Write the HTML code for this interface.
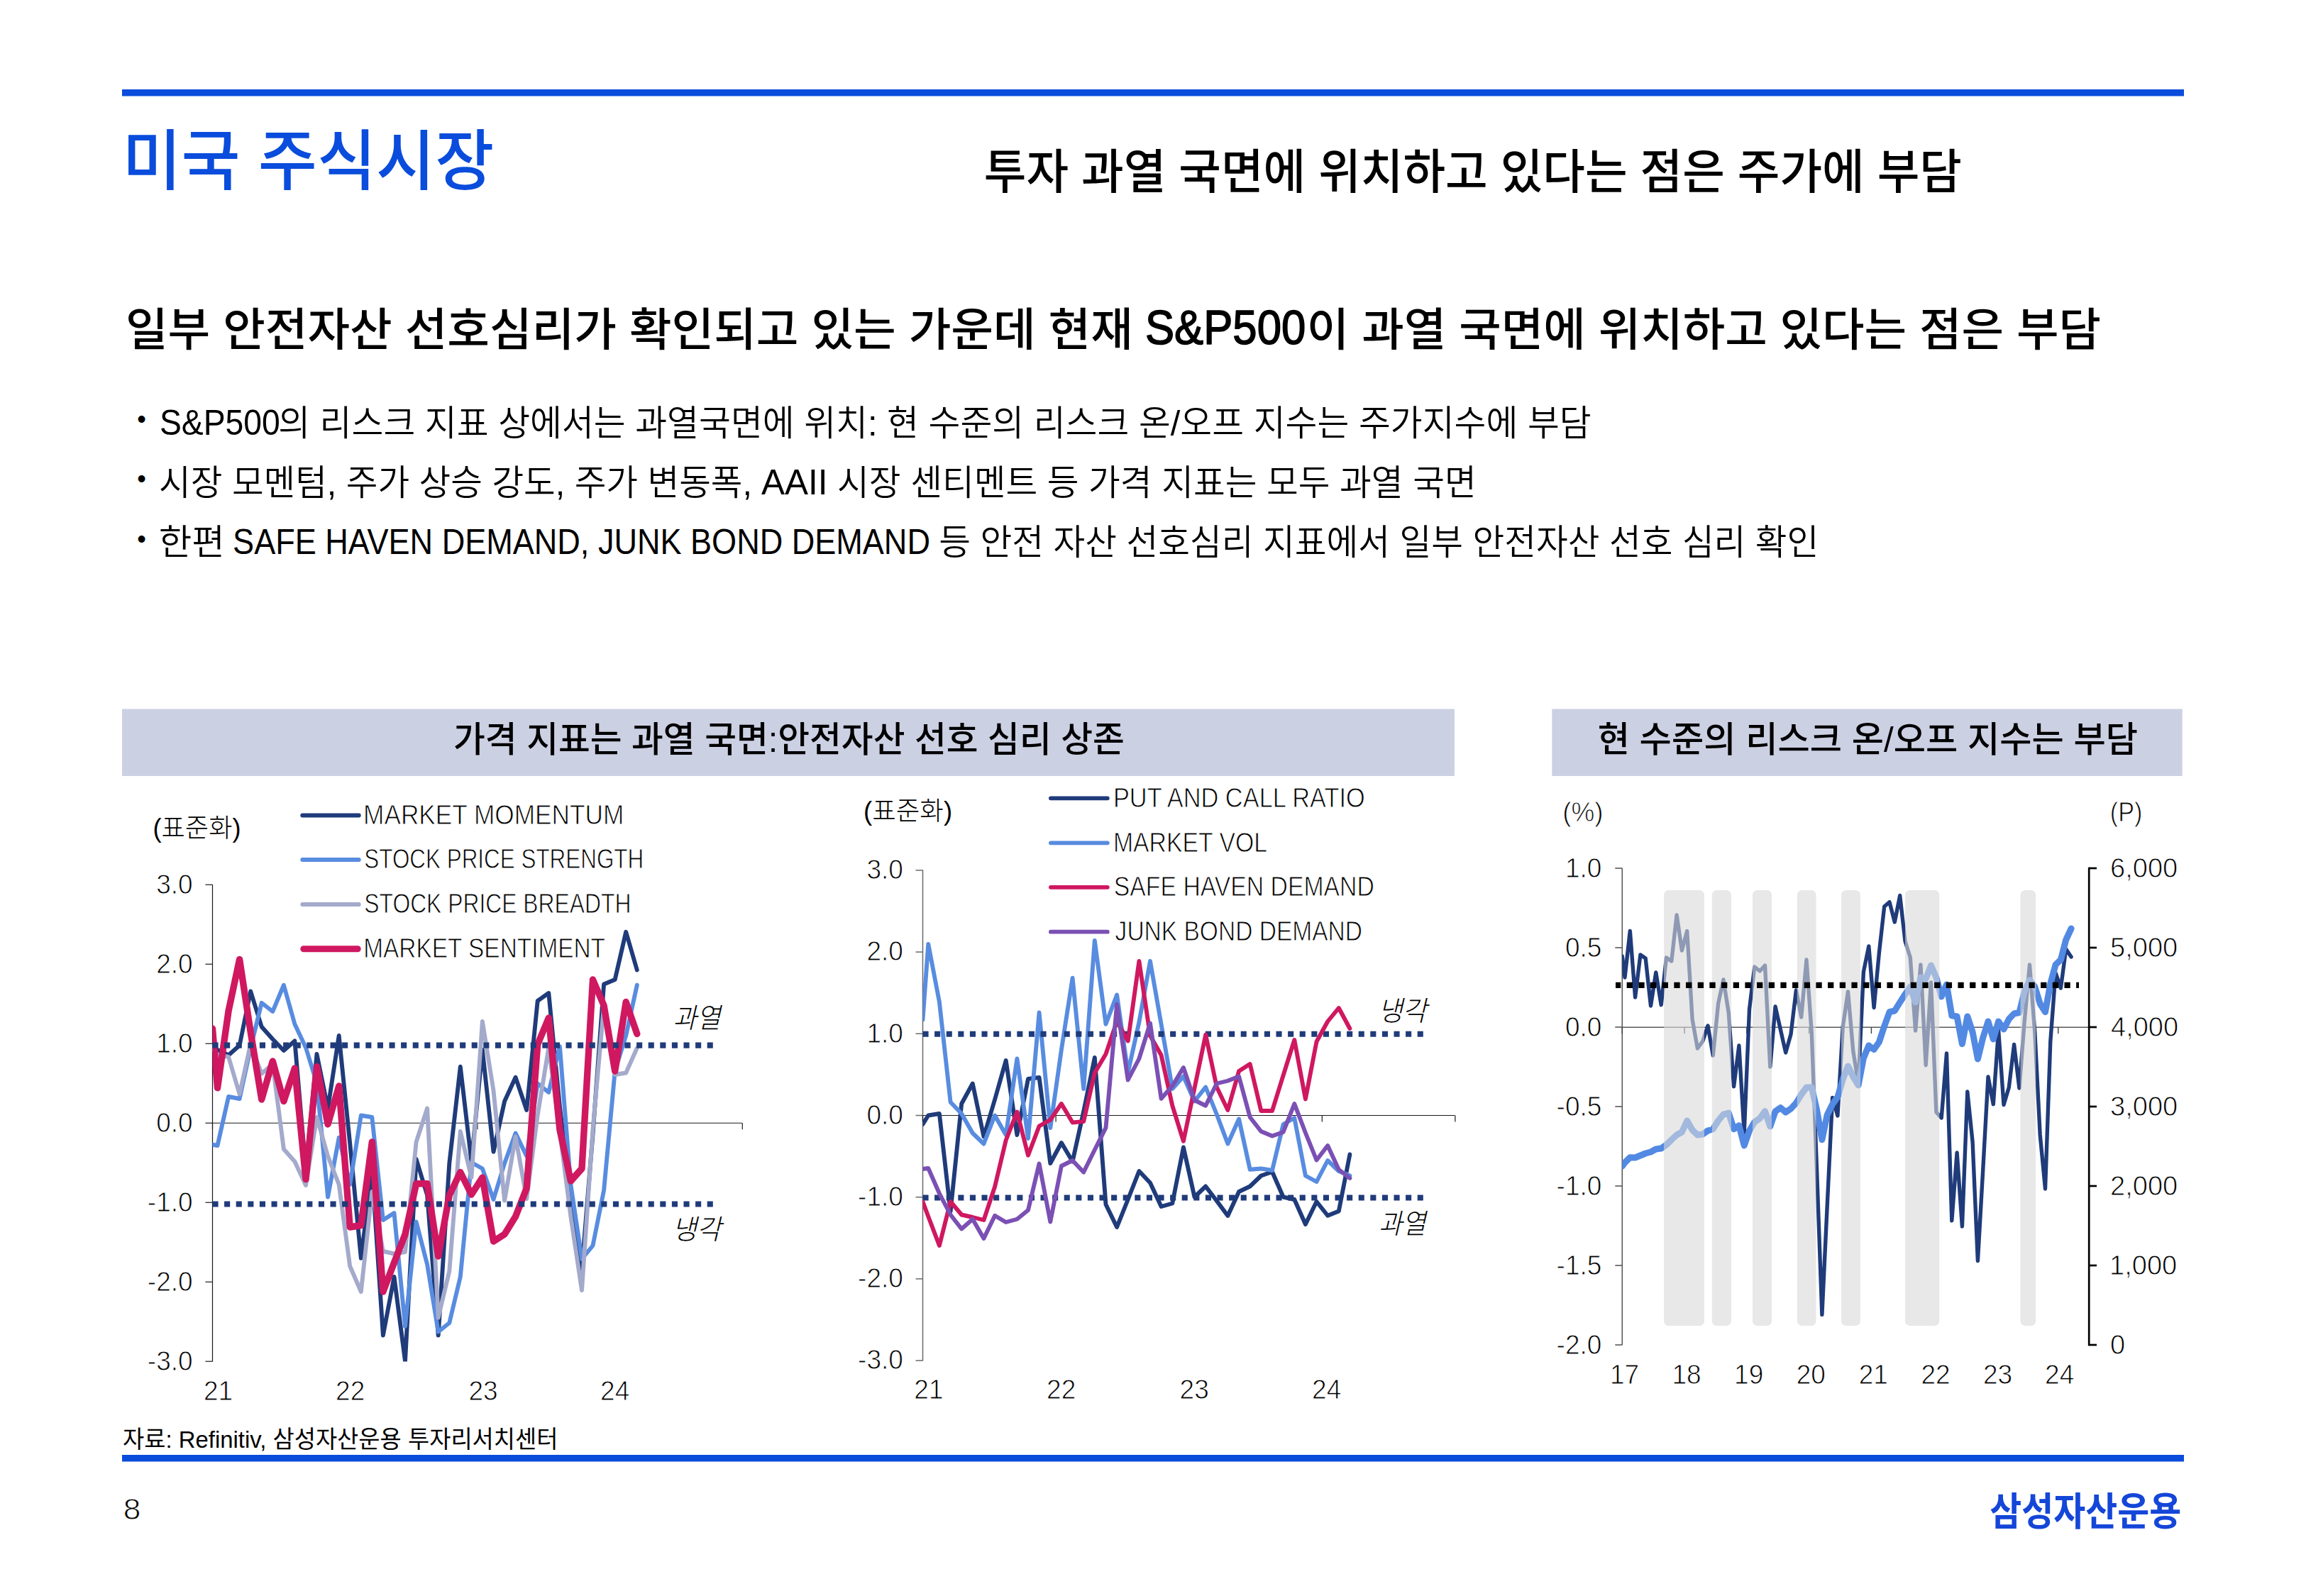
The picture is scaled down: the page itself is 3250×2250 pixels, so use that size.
<!DOCTYPE html>
<html lang="ko"><head><meta charset="utf-8"><title>미국 주식시장</title>
<style>
html,body{margin:0;padding:0;background:#fff;width:3250px;height:2250px}
svg{display:block;font-family:'Liberation Sans','Noto Sans CJK KR',sans-serif}
</style></head><body>
<svg width="3250" height="2250" viewBox="0 0 3250 2250">
<rect width="3250" height="2250" fill="#fff"/>
<rect x="172" y="126" width="2906" height="9.5" fill="#0A4CDC"/>
<rect x="172" y="2051" width="2906" height="9.5" fill="#0A4CDC"/>
<rect x="172" y="999.5" width="1878" height="94.5" fill="#CCD0E3"/>
<rect x="2187.3" y="999.5" width="888.4" height="94.5" fill="#CCD0E3"/>
<line x1="299.5" y1="1247" x2="299.5" y2="1919.5" stroke="#1a1a1a" stroke-width="1.2"/>
<line x1="289.5" y1="1247.25" x2="299.5" y2="1247.25" stroke="#1a1a1a" stroke-width="1.2"/>
<line x1="289.5" y1="1359.25" x2="299.5" y2="1359.25" stroke="#1a1a1a" stroke-width="1.2"/>
<line x1="289.5" y1="1471.25" x2="299.5" y2="1471.25" stroke="#1a1a1a" stroke-width="1.2"/>
<line x1="289.5" y1="1583.25" x2="299.5" y2="1583.25" stroke="#1a1a1a" stroke-width="1.2"/>
<line x1="289.5" y1="1695.25" x2="299.5" y2="1695.25" stroke="#1a1a1a" stroke-width="1.2"/>
<line x1="289.5" y1="1807.25" x2="299.5" y2="1807.25" stroke="#1a1a1a" stroke-width="1.2"/>
<line x1="289.5" y1="1919.25" x2="299.5" y2="1919.25" stroke="#1a1a1a" stroke-width="1.2"/>
<line x1="299.5" y1="1583.25" x2="1046" y2="1583.25" stroke="#1a1a1a" stroke-width="1.2"/>
<line x1="299.5" y1="1583.25" x2="299.5" y2="1592.25" stroke="#1a1a1a" stroke-width="1.2"/>
<line x1="486.2" y1="1583.25" x2="486.2" y2="1592.25" stroke="#1a1a1a" stroke-width="1.2"/>
<line x1="672.9" y1="1583.25" x2="672.9" y2="1592.25" stroke="#1a1a1a" stroke-width="1.2"/>
<line x1="859.5999999999999" y1="1583.25" x2="859.5999999999999" y2="1592.25" stroke="#1a1a1a" stroke-width="1.2"/>
<line x1="1046.3" y1="1583.25" x2="1046.3" y2="1592.25" stroke="#1a1a1a" stroke-width="1.2"/>
<clipPath id="cp1"><rect x="299.5" y="1240" width="760" height="679.5"/></clipPath>
<g clip-path="url(#cp1)">
<path d="M299.5,1478 L306.5,1480 L322.1,1487.5 L337.6,1473.75 L353.2,1397.5 L368.7,1447.5 L384.3,1465 L399.9,1481 L415.4,1467.5 L431,1650 L446.5,1486 L462.1,1562.5 L477.7,1460 L493.2,1612 L508.8,1773.75 L524.3,1650 L539.9,1882.5 L555.5,1800 L571,1919 L586.6,1634 L602.1,1685 L617.7,1882.5 L633.3,1640 L648.8,1503.75 L664.4,1637.5 L679.9,1480 L695.5,1623.75 L711.1,1552.5 L726.6,1518.75 L742.2,1565 L757.7,1411 L773.3,1400 L788.9,1560 L804.4,1690 L820,1790 L835.5,1599 L851.1,1387.5 L866.7,1381 L882.2,1313.75 L897.8,1367.5" fill="none" stroke="#1F3B7A" stroke-width="5.9" stroke-linejoin="round" stroke-linecap="round" />
<path d="M299.5,1613.75 L306.5,1615 L322.1,1546 L337.6,1549 L353.2,1477.5 L368.7,1413.75 L384.3,1426 L399.9,1388.75 L415.4,1443.75 L431,1477 L446.5,1527 L462.1,1687.5 L477.7,1603.75 L493.2,1670 L508.8,1572.5 L524.3,1575 L539.9,1720 L555.5,1710 L571,1870 L586.6,1722.5 L602.1,1782.5 L617.7,1877.5 L633.3,1865 L648.8,1800 L664.4,1638.75 L679.9,1647.5 L695.5,1691 L711.1,1640 L726.6,1597.5 L742.2,1630 L757.7,1527.5 L773.3,1540 L788.9,1475 L804.4,1670 L820,1775 L835.5,1756 L851.1,1678 L866.7,1510 L882.2,1460 L897.8,1388.75" fill="none" stroke="#588CE0" stroke-width="5.9" stroke-linejoin="round" stroke-linecap="round" />
<path d="M299.5,1478 L306.5,1487 L322.1,1490 L337.6,1542.5 L353.2,1472 L368.7,1513.75 L384.3,1500 L399.9,1620 L415.4,1637.5 L431,1671 L446.5,1575 L462.1,1630 L477.7,1670 L493.2,1785 L508.8,1821 L524.3,1680 L539.9,1764 L555.5,1767.5 L571,1765 L586.6,1610 L602.1,1562.5 L617.7,1857.5 L633.3,1792 L648.8,1595 L664.4,1660 L679.9,1440 L695.5,1537.5 L711.1,1692.5 L726.6,1602.5 L742.2,1690 L757.7,1572 L773.3,1477 L788.9,1595 L804.4,1715 L820,1819 L835.5,1592 L851.1,1418 L866.7,1515 L882.2,1512.5 L897.8,1477.5" fill="none" stroke="#A3AACB" stroke-width="5.9" stroke-linejoin="round" stroke-linecap="round" />
<path d="M299.5,1450 L306.5,1533.75 L322.1,1425 L337.6,1352.5 L353.2,1455 L368.7,1550 L384.3,1496 L399.9,1552.5 L415.4,1506 L431,1662.5 L446.5,1503.75 L462.1,1585 L477.7,1531 L493.2,1730 L508.8,1727.5 L524.3,1610 L539.9,1821 L555.5,1780 L571,1740 L586.6,1668.75 L602.1,1668.75 L617.7,1771 L633.3,1685 L648.8,1652.5 L664.4,1684 L679.9,1660 L695.5,1750 L711.1,1740 L726.6,1715 L742.2,1675 L757.7,1472.5 L773.3,1435 L788.9,1592.5 L804.4,1665 L820,1647.5 L835.5,1381 L851.1,1417.5 L866.7,1510 L882.2,1412.5 L897.8,1457.5" fill="none" stroke="#CF1860" stroke-width="9.4" stroke-linejoin="round" stroke-linecap="round" />
</g>
<line x1="299.5" y1="1473.6" x2="1006" y2="1473.6" stroke="#1F3B7A" stroke-width="8.1" stroke-dasharray="8.1 8.5" stroke-dashoffset="0"/>
<line x1="299.5" y1="1697.5" x2="1006" y2="1697.5" stroke="#1F3B7A" stroke-width="8.1" stroke-dasharray="8.1 8.5" stroke-dashoffset="0"/>
<line x1="1300.5" y1="1226.5" x2="1300.5" y2="1918.5" stroke="#6a6a6a" stroke-width="1.5"/>
<line x1="1290.5" y1="1226.9" x2="1300.5" y2="1226.9" stroke="#6a6a6a" stroke-width="1.5"/>
<line x1="1290.5" y1="1342.1000000000001" x2="1300.5" y2="1342.1000000000001" stroke="#6a6a6a" stroke-width="1.5"/>
<line x1="1290.5" y1="1457.3000000000002" x2="1300.5" y2="1457.3000000000002" stroke="#6a6a6a" stroke-width="1.5"/>
<line x1="1290.5" y1="1572.5" x2="1300.5" y2="1572.5" stroke="#6a6a6a" stroke-width="1.5"/>
<line x1="1290.5" y1="1687.7" x2="1300.5" y2="1687.7" stroke="#6a6a6a" stroke-width="1.5"/>
<line x1="1290.5" y1="1802.9" x2="1300.5" y2="1802.9" stroke="#6a6a6a" stroke-width="1.5"/>
<line x1="1290.5" y1="1918.1000000000001" x2="1300.5" y2="1918.1000000000001" stroke="#6a6a6a" stroke-width="1.5"/>
<line x1="1300.5" y1="1572.5" x2="2050.5" y2="1572.5" stroke="#1a1a1a" stroke-width="1.2"/>
<line x1="1300.5" y1="1572.5" x2="1300.5" y2="1581.5" stroke="#1a1a1a" stroke-width="1.2"/>
<line x1="1488.1" y1="1572.5" x2="1488.1" y2="1581.5" stroke="#1a1a1a" stroke-width="1.2"/>
<line x1="1675.7" y1="1572.5" x2="1675.7" y2="1581.5" stroke="#1a1a1a" stroke-width="1.2"/>
<line x1="1863.3" y1="1572.5" x2="1863.3" y2="1581.5" stroke="#1a1a1a" stroke-width="1.2"/>
<line x1="2050.9" y1="1572.5" x2="2050.9" y2="1581.5" stroke="#1a1a1a" stroke-width="1.2"/>
<clipPath id="cp2"><rect x="1300.5" y="1220" width="760" height="699"/></clipPath>
<g clip-path="url(#cp2)">
<path d="M1300.5,1585 L1308.3,1572.5 L1323.9,1570 L1339.6,1708 L1355.2,1556 L1370.8,1527.5 L1386.5,1602.5 L1402.1,1550 L1417.7,1495 L1433.4,1600 L1449,1521 L1464.6,1519 L1480.3,1640 L1495.9,1611 L1511.6,1637.5 L1527.2,1567 L1542.8,1491 L1558.5,1698 L1574.1,1730 L1589.7,1691 L1605.4,1651 L1621,1667.5 L1636.6,1701 L1652.3,1696.5 L1667.9,1617.5 L1683.5,1687.5 L1699.2,1672.5 L1714.8,1693 L1730.4,1714 L1746.1,1680 L1761.7,1672.5 L1777.3,1657.5 L1793,1652 L1808.6,1687.5 L1824.3,1691 L1839.9,1726 L1855.5,1694 L1871.2,1713.75 L1886.8,1707.5 L1902.4,1627.5" fill="none" stroke="#1F3B7A" stroke-width="5.9" stroke-linejoin="round" stroke-linecap="round" />
<path d="M1300.5,1437.5 L1308.3,1331 L1323.9,1412.5 L1339.6,1553.75 L1355.2,1570 L1370.8,1597.5 L1386.5,1612.5 L1402.1,1572.5 L1417.7,1600 L1433.4,1492.5 L1449,1605 L1464.6,1427.5 L1480.3,1590 L1495.9,1480 L1511.6,1378.75 L1527.2,1535 L1542.8,1326 L1558.5,1443.75 L1574.1,1402.5 L1589.7,1512 L1605.4,1441 L1621,1355 L1636.6,1444 L1652.3,1535 L1667.9,1517.5 L1683.5,1552.5 L1699.2,1532.5 L1714.8,1571 L1730.4,1612.5 L1746.1,1577.5 L1761.7,1648.75 L1777.3,1647.5 L1793,1650 L1808.6,1585 L1824.3,1576 L1839.9,1657.5 L1855.5,1666 L1871.2,1636 L1886.8,1651 L1902.4,1657.5" fill="none" stroke="#588CE0" stroke-width="5.9" stroke-linejoin="round" stroke-linecap="round" />
</g>
<line x1="1300.5" y1="1457.7" x2="2008" y2="1457.7" stroke="#1F3B7A" stroke-width="8.1" stroke-dasharray="8.1 8.5" stroke-dashoffset="0"/>
<line x1="1300.5" y1="1688.5" x2="2008" y2="1688.5" stroke="#1F3B7A" stroke-width="8.1" stroke-dasharray="8.1 8.5" stroke-dashoffset="0"/>
<g clip-path="url(#cp2)">
<path d="M1300.5,1694 L1308.3,1715 L1323.9,1756 L1339.6,1694 L1355.2,1712.5 L1370.8,1716 L1386.5,1720 L1402.1,1673 L1417.7,1607.5 L1433.4,1567.5 L1449,1628.75 L1464.6,1587.5 L1480.3,1578.75 L1495.9,1556 L1511.6,1582.5 L1527.2,1581 L1542.8,1512.5 L1558.5,1486 L1574.1,1440 L1589.7,1467.5 L1605.4,1355 L1621,1460 L1636.6,1487.5 L1652.3,1558.75 L1667.9,1608.75 L1683.5,1534 L1699.2,1458.75 L1714.8,1532.5 L1730.4,1565 L1746.1,1510 L1761.7,1500 L1777.3,1566 L1793,1566 L1808.6,1516 L1824.3,1466 L1839.9,1549.5 L1855.5,1468.5 L1871.2,1440 L1886.8,1421 L1902.4,1450" fill="none" stroke="#CF1860" stroke-width="5.9" stroke-linejoin="round" stroke-linecap="round" />
<path d="M1300.5,1648 L1308.3,1647 L1323.9,1682.5 L1339.6,1712.5 L1355.2,1732.5 L1370.8,1718.75 L1386.5,1746 L1402.1,1713.75 L1417.7,1723 L1433.4,1718.75 L1449,1706 L1464.6,1640.5 L1480.3,1722.5 L1495.9,1643.75 L1511.6,1636 L1527.2,1652.5 L1542.8,1621 L1558.5,1590 L1574.1,1416 L1589.7,1522.5 L1605.4,1492.5 L1621,1442.5 L1636.6,1548.75 L1652.3,1531 L1667.9,1505 L1683.5,1551 L1699.2,1558.75 L1714.8,1527.5 L1730.4,1523.75 L1746.1,1517.5 L1761.7,1575 L1777.3,1595 L1793,1601.5 L1808.6,1596 L1824.3,1556 L1839.9,1597 L1855.5,1635.5 L1871.2,1615 L1886.8,1648.75 L1902.4,1661" fill="none" stroke="#7B50B4" stroke-width="5.9" stroke-linejoin="round" stroke-linecap="round" />
</g>
<line x1="2286.3" y1="1224" x2="2286.3" y2="1896" stroke="#595959" stroke-width="1.6"/>
<line x1="2276.3" y1="1224" x2="2286.3" y2="1224" stroke="#595959" stroke-width="1.6"/>
<line x1="2276.3" y1="1336" x2="2286.3" y2="1336" stroke="#595959" stroke-width="1.6"/>
<line x1="2276.3" y1="1448" x2="2286.3" y2="1448" stroke="#595959" stroke-width="1.6"/>
<line x1="2276.3" y1="1560" x2="2286.3" y2="1560" stroke="#595959" stroke-width="1.6"/>
<line x1="2276.3" y1="1672" x2="2286.3" y2="1672" stroke="#595959" stroke-width="1.6"/>
<line x1="2276.3" y1="1784" x2="2286.3" y2="1784" stroke="#595959" stroke-width="1.6"/>
<line x1="2276.3" y1="1896" x2="2286.3" y2="1896" stroke="#595959" stroke-width="1.6"/>
<line x1="2286.3" y1="1448.2" x2="2944" y2="1448.2" stroke="#595959" stroke-width="1.6"/>
<line x1="2286.3" y1="1448.2" x2="2286.3" y2="1457.2" stroke="#404040" stroke-width="1.4"/>
<line x1="2374.0800000000004" y1="1448.2" x2="2374.0800000000004" y2="1457.2" stroke="#404040" stroke-width="1.4"/>
<line x1="2461.86" y1="1448.2" x2="2461.86" y2="1457.2" stroke="#404040" stroke-width="1.4"/>
<line x1="2549.6400000000003" y1="1448.2" x2="2549.6400000000003" y2="1457.2" stroke="#404040" stroke-width="1.4"/>
<line x1="2637.42" y1="1448.2" x2="2637.42" y2="1457.2" stroke="#404040" stroke-width="1.4"/>
<line x1="2725.2000000000003" y1="1448.2" x2="2725.2000000000003" y2="1457.2" stroke="#404040" stroke-width="1.4"/>
<line x1="2812.9800000000005" y1="1448.2" x2="2812.9800000000005" y2="1457.2" stroke="#404040" stroke-width="1.4"/>
<line x1="2900.76" y1="1448.2" x2="2900.76" y2="1457.2" stroke="#404040" stroke-width="1.4"/>
<line x1="2944.2" y1="1222.7" x2="2944.2" y2="1897.3" stroke="#000" stroke-width="2.7"/>
<line x1="2944.2" y1="1224" x2="2955" y2="1224" stroke="#000" stroke-width="2.7"/>
<line x1="2944.2" y1="1336" x2="2955" y2="1336" stroke="#000" stroke-width="2.7"/>
<line x1="2944.2" y1="1448" x2="2955" y2="1448" stroke="#000" stroke-width="2.7"/>
<line x1="2944.2" y1="1560" x2="2955" y2="1560" stroke="#000" stroke-width="2.7"/>
<line x1="2944.2" y1="1672" x2="2955" y2="1672" stroke="#000" stroke-width="2.7"/>
<line x1="2944.2" y1="1784" x2="2955" y2="1784" stroke="#000" stroke-width="2.7"/>
<line x1="2944.2" y1="1896" x2="2955" y2="1896" stroke="#000" stroke-width="2.7"/>
<clipPath id="cp3"><rect x="2286.3" y="1220" width="660" height="680"/></clipPath>
<g clip-path="url(#cp3)">
<path d="M2286.3,1348 L2290,1378 L2297.3,1312.5 L2304.6,1406 L2311.9,1346 L2319.2,1351 L2326.5,1418 L2333.8,1371 L2341.2,1416.7 L2348.5,1350 L2355.8,1355 L2363.1,1290 L2370.4,1340 L2377.7,1312.5 L2385.1,1437 L2392.4,1478 L2399.7,1468 L2407,1446 L2414.3,1488 L2421.6,1415 L2428.9,1381 L2436.3,1428 L2443.6,1531.7 L2450.9,1474 L2458.2,1597 L2465.5,1423 L2472.8,1363 L2480.2,1369 L2487.5,1361 L2494.8,1504 L2502.1,1419 L2509.4,1451.7 L2516.7,1484 L2524,1458 L2531.4,1396 L2538.7,1434 L2546,1353 L2553.3,1456.7 L2560.6,1650 L2567.9,1853.3 L2575.2,1700 L2582.6,1547.5 L2589.9,1573 L2597.2,1448 L2604.5,1398 L2611.8,1482 L2619.1,1527 L2626.4,1370 L2633.8,1334 L2641.1,1420.5 L2648.4,1343 L2655.7,1278 L2663,1271.7 L2670.3,1300 L2677.7,1262.5 L2685,1326.7 L2692.3,1350 L2699.6,1453 L2706.9,1360 L2714.2,1501.7 L2721.5,1385 L2728.9,1568 L2736.2,1576 L2743.5,1485 L2750.8,1720.8 L2758.1,1625 L2765.4,1729 L2772.8,1539 L2780.1,1610 L2787.4,1777.5 L2794.7,1650 L2802,1518 L2809.3,1556.7 L2816.6,1452.5 L2824,1557.5 L2831.3,1533 L2838.6,1472.5 L2845.9,1534 L2853.2,1440 L2860.5,1360 L2867.8,1455 L2875.2,1600 L2882.5,1676 L2889.8,1468 L2897.1,1371.7 L2904.4,1393 L2911.7,1338 L2919.1,1349" fill="none" stroke="#1F3B7A" stroke-width="5.4" stroke-linejoin="round" stroke-linecap="round" />
<path d="M2286.3,1644 L2290,1639 L2297.3,1631.7 L2304.6,1632 L2311.9,1629 L2319.2,1626 L2326.5,1624 L2333.8,1620 L2341.2,1619 L2348.5,1614 L2355.8,1606.7 L2363.1,1600 L2370.4,1596 L2377.7,1580 L2385.1,1593 L2392.4,1600 L2399.7,1599 L2407,1594 L2414.3,1591.7 L2421.6,1580 L2428.9,1571 L2436.3,1569 L2443.6,1591.7 L2450.9,1586.7 L2458.2,1615 L2465.5,1594 L2472.8,1581.7 L2480.2,1576.7 L2487.5,1566.7 L2494.8,1588 L2502.1,1566.7 L2509.4,1561.7 L2516.7,1568 L2524,1563 L2531.4,1555 L2538.7,1543 L2546,1533 L2553.3,1533 L2560.6,1565 L2567.9,1606.7 L2575.2,1571.7 L2582.6,1556.7 L2589.9,1546.7 L2597.2,1521.7 L2604.5,1503 L2611.8,1518 L2619.1,1530 L2626.4,1491.7 L2633.8,1474 L2641.1,1479.5 L2648.4,1469 L2655.7,1446.7 L2663,1426.7 L2670.3,1425 L2677.7,1413 L2685,1401.7 L2692.3,1391 L2699.6,1413 L2706.9,1378 L2714.2,1380 L2721.5,1361 L2728.9,1378 L2736.2,1405 L2743.5,1388 L2750.8,1431.7 L2758.1,1433 L2765.4,1471.7 L2772.8,1433 L2780.1,1455 L2787.4,1493 L2794.7,1463 L2802,1440 L2809.3,1465 L2816.6,1440 L2824,1451 L2831.3,1436.7 L2838.6,1429 L2845.9,1427.5 L2853.2,1398 L2860.5,1381.7 L2867.8,1391 L2875.2,1415 L2882.5,1426.7 L2889.8,1386.7 L2897.1,1360 L2904.4,1353 L2911.7,1325 L2919.1,1309" fill="none" stroke="#5289E3" stroke-width="9.0" stroke-linejoin="round" stroke-linecap="round" />
</g>
<rect x="2345" y="1255" width="57" height="614" rx="6.5" fill="rgb(217,217,217)" fill-opacity="0.6"/>
<rect x="2412.8" y="1255" width="27.2" height="614" rx="6.5" fill="rgb(217,217,217)" fill-opacity="0.6"/>
<rect x="2470" y="1255" width="27" height="614" rx="6.5" fill="rgb(217,217,217)" fill-opacity="0.6"/>
<rect x="2532.8" y="1255" width="26.7" height="614" rx="6.5" fill="rgb(217,217,217)" fill-opacity="0.6"/>
<rect x="2595" y="1255" width="27" height="614" rx="6.5" fill="rgb(217,217,217)" fill-opacity="0.6"/>
<rect x="2685" y="1255" width="48.3" height="614" rx="6.5" fill="rgb(217,217,217)" fill-opacity="0.6"/>
<rect x="2847.5" y="1255" width="21.7" height="614" rx="6.5" fill="rgb(217,217,217)" fill-opacity="0.6"/>
<line x1="2277" y1="1388.8" x2="2930" y2="1388.8" stroke="#000" stroke-width="8.3" stroke-dasharray="8.3 8.37" stroke-dashoffset="1"/>
<line x1="426.2" y1="1149.5" x2="505.8" y2="1149.5" stroke="#1F3B7A" stroke-width="5.8" stroke-linecap="round"/>
<line x1="426.2" y1="1212" x2="505.8" y2="1212" stroke="#588CE0" stroke-width="5.8" stroke-linecap="round"/>
<line x1="426.2" y1="1275" x2="505.8" y2="1275" stroke="#A3AACB" stroke-width="5.8" stroke-linecap="round"/>
<line x1="427.8" y1="1337.8" x2="504.2" y2="1337.8" stroke="#CF1860" stroke-width="9" stroke-linecap="round"/>
<line x1="1480.9" y1="1125.3" x2="1560.8" y2="1125.3" stroke="#1F3B7A" stroke-width="5.8" stroke-linecap="round"/>
<line x1="1480.9" y1="1188.3" x2="1560.8" y2="1188.3" stroke="#588CE0" stroke-width="5.8" stroke-linecap="round"/>
<line x1="1480.9" y1="1250.8" x2="1560.8" y2="1250.8" stroke="#CF1860" stroke-width="5.8" stroke-linecap="round"/>
<line x1="1480.9" y1="1313.7" x2="1560.8" y2="1313.7" stroke="#7B50B4" stroke-width="5.8" stroke-linecap="round"/>
<text transform="translate(172.44 260) scale(0.9736 1)" font-size="92.8" font-weight="500" fill="#0A4CDC">미국 주식시장</text>
<text transform="translate(1386.81 265.6) scale(0.9617 1)" font-size="67.4" font-weight="500">투자 과열 국면에 위치하고 있다는 점은 주가에 부담</text>
<text transform="translate(176.95 486.5) scale(1.0113 1)" font-size="64.1" font-weight="500">일부 안전자산 선호심리가 확인되고 있는 가운데 현재</text>
<text transform="translate(1613.91 484.9) scale(0.8944 1)" font-size="69" font-weight="400" stroke="#000" stroke-width="1.6" stroke-linejoin="round">S&amp;P500</text>
<text transform="translate(1841.75 486.5) scale(1.0093 1)" font-size="64.1" font-weight="500">이 과열 국면에 위치하고 있다는 점은 부담</text>
<text transform="translate(224.95 612.5) scale(0.9256 1)" font-size="50" font-weight="400">S&amp;P500</text>
<text transform="translate(392.17 614) scale(0.9760 1)" font-size="50" font-weight="350">의 리스크 지표 상에서는 과열국면에 위치: 현 수준의 리스크 온/오프 지수는 주가지수에 부담</text>
<text transform="translate(224.09 698) scale(0.9711 1)" font-size="50" font-weight="350">시장 모멘텀, 주가 상승 강도, 주가 변동폭,</text>
<text transform="translate(1073.00 696.6) scale(0.9900 1)" font-size="50" font-weight="400">AAII</text>
<text transform="translate(1180.08 698) scale(0.9738 1)" font-size="50" font-weight="350">시장 센티멘트 등 가격 지표는 모두 과열 국면</text>
<text transform="translate(223.76 782.2) scale(1.0119 1)" font-size="50" font-weight="350">한편</text>
<text transform="translate(328.10 780.7) scale(0.9013 1)" font-size="50" font-weight="400">SAFE HAVEN DEMAND, JUNK BOND DEMAND</text>
<text transform="translate(1323.25 782.2) scale(0.9729 1)" font-size="50" font-weight="350">등 안전 자산 선호심리 지표에서 일부 안전자산 선호 심리 확인</text>
<text transform="translate(193.20 603.3) scale(1.0000 1)" font-size="36" font-weight="400">•</text>
<text transform="translate(193.20 687.3) scale(1.0000 1)" font-size="36" font-weight="400">•</text>
<text transform="translate(193.20 771.5) scale(1.0000 1)" font-size="36" font-weight="400">•</text>
<text transform="translate(639.05 1060) scale(0.9739 1)" font-size="50" font-weight="500">가격 지표는 과열 국면:안전자산 선호 심리 상존</text>
<text transform="translate(2251.63 1060) scale(0.9847 1)" font-size="50" font-weight="500">현 수준의 리스크 온/오프 지수는 부담</text>
<text transform="translate(173.03 2041) scale(0.9697 1)" font-size="33.9" font-weight="400">자료: Refinitiv, 삼성자산운용 투자리서치센터</text>
<text transform="translate(2804.20 2150.3) scale(0.9010 1)" font-size="54.3" font-weight="700" fill="#1446D8">삼성자산운용</text>
<text transform="translate(173.87 2141.5) scale(1.0632 1)" font-size="41.6" font-weight="400" stroke="#fff" stroke-width="0.9">8</text>
<text transform="translate(215.52 1179.5) scale(0.9917 1)" font-size="36.5" font-weight="300">(표준화)</text>
<text transform="translate(220.20 1260) scale(0.9500 1)" font-size="39" font-weight="400" stroke="#fff" stroke-width="0.9">3.0</text>
<text transform="translate(220.20 1372) scale(0.9500 1)" font-size="39" font-weight="400" stroke="#fff" stroke-width="0.9">2.0</text>
<text transform="translate(220.20 1484) scale(0.9500 1)" font-size="39" font-weight="400" stroke="#fff" stroke-width="0.9">1.0</text>
<text transform="translate(220.20 1596) scale(0.9500 1)" font-size="39" font-weight="400" stroke="#fff" stroke-width="0.9">0.0</text>
<text transform="translate(207.85 1708) scale(0.9500 1)" font-size="39" font-weight="400" stroke="#fff" stroke-width="0.9">-1.0</text>
<text transform="translate(207.85 1820) scale(0.9500 1)" font-size="39" font-weight="400" stroke="#fff" stroke-width="0.9">-2.0</text>
<text transform="translate(207.85 1932) scale(0.9500 1)" font-size="39" font-weight="400" stroke="#fff" stroke-width="0.9">-3.0</text>
<text transform="translate(286.97 1973.5) scale(0.9500 1)" font-size="39" font-weight="400" stroke="#fff" stroke-width="0.9">21</text>
<text transform="translate(473.07 1973.5) scale(0.9500 1)" font-size="39" font-weight="400" stroke="#fff" stroke-width="0.9">22</text>
<text transform="translate(660.38 1973.5) scale(0.9500 1)" font-size="39" font-weight="400" stroke="#fff" stroke-width="0.9">23</text>
<text transform="translate(846.10 1973.5) scale(0.9500 1)" font-size="39" font-weight="400" stroke="#fff" stroke-width="0.9">24</text>
<text transform="translate(512.09 1161.7) scale(0.9272 1)" font-size="38" font-weight="400" stroke="#fff" stroke-width="0.9">MARKET MOMENTUM</text>
<text transform="translate(513.32 1224.4) scale(0.8268 1)" font-size="38" font-weight="400" stroke="#fff" stroke-width="0.9">STOCK PRICE STRENGTH</text>
<text transform="translate(513.29 1287.2) scale(0.8376 1)" font-size="38" font-weight="400" stroke="#fff" stroke-width="0.9">STOCK PRICE BREADTH</text>
<text transform="translate(512.28 1350) scale(0.8788 1)" font-size="38" font-weight="400" stroke="#fff" stroke-width="0.9">MARKET SENTIMENT</text>
<text transform="translate(948.60 1448.5) scale(0.9333 1)" font-size="39" font-weight="300" font-style="italic">과열</text>
<text transform="translate(947.18 1746.5) scale(0.9647 1)" font-size="39" font-weight="300" font-style="italic">냉각</text>
<text transform="translate(1217.00 1155.5) scale(1.0000 1)" font-size="36.5" font-weight="300">(표준화)</text>
<text transform="translate(1221.40 1239.2) scale(0.9500 1)" font-size="39" font-weight="400" stroke="#fff" stroke-width="0.9">3.0</text>
<text transform="translate(1221.40 1354.4) scale(0.9500 1)" font-size="39" font-weight="400" stroke="#fff" stroke-width="0.9">2.0</text>
<text transform="translate(1221.40 1469.6) scale(0.9500 1)" font-size="39" font-weight="400" stroke="#fff" stroke-width="0.9">1.0</text>
<text transform="translate(1221.40 1584.8) scale(0.9500 1)" font-size="39" font-weight="400" stroke="#fff" stroke-width="0.9">0.0</text>
<text transform="translate(1209.05 1700) scale(0.9500 1)" font-size="39" font-weight="400" stroke="#fff" stroke-width="0.9">-1.0</text>
<text transform="translate(1209.05 1815.2) scale(0.9500 1)" font-size="39" font-weight="400" stroke="#fff" stroke-width="0.9">-2.0</text>
<text transform="translate(1209.05 1930.4) scale(0.9500 1)" font-size="39" font-weight="400" stroke="#fff" stroke-width="0.9">-3.0</text>
<text transform="translate(1288.33 1971.5) scale(0.9500 1)" font-size="39" font-weight="400" stroke="#fff" stroke-width="0.9">21</text>
<text transform="translate(1475.08 1971.5) scale(0.9500 1)" font-size="39" font-weight="400" stroke="#fff" stroke-width="0.9">22</text>
<text transform="translate(1662.58 1971.5) scale(0.9500 1)" font-size="39" font-weight="400" stroke="#fff" stroke-width="0.9">23</text>
<text transform="translate(1849.10 1971.5) scale(0.9500 1)" font-size="39" font-weight="400" stroke="#fff" stroke-width="0.9">24</text>
<text transform="translate(1568.88 1137.5) scale(0.9054 1)" font-size="38" font-weight="400" stroke="#fff" stroke-width="0.9">PUT AND CALL RATIO</text>
<text transform="translate(1568.94 1200.5) scale(0.8891 1)" font-size="38" font-weight="400" stroke="#fff" stroke-width="0.9">MARKET VOL</text>
<text transform="translate(1569.83 1263) scale(0.8885 1)" font-size="38" font-weight="400" stroke="#fff" stroke-width="0.9">SAFE HAVEN DEMAND</text>
<text transform="translate(1571.62 1326) scale(0.8827 1)" font-size="38" font-weight="400" stroke="#fff" stroke-width="0.9">JUNK BOND DEMAND</text>
<text transform="translate(1942.24 1439) scale(0.9574 1)" font-size="39" font-weight="300" font-style="italic">냉각</text>
<text transform="translate(1943.02 1739) scale(0.9264 1)" font-size="39" font-weight="300" font-style="italic">과열</text>
<text transform="translate(2202.16 1157.5) scale(0.9455 1)" font-size="39" font-weight="400" stroke="#fff" stroke-width="0.9">(%)</text>
<text transform="translate(2973.87 1157.5) scale(0.8761 1)" font-size="39" font-weight="400" stroke="#fff" stroke-width="0.9">(P)</text>
<text transform="translate(2205.90 1237) scale(0.9500 1)" font-size="39" font-weight="400" stroke="#fff" stroke-width="0.9">1.0</text>
<text transform="translate(2205.90 1349) scale(0.9500 1)" font-size="39" font-weight="400" stroke="#fff" stroke-width="0.9">0.5</text>
<text transform="translate(2205.90 1461) scale(0.9500 1)" font-size="39" font-weight="400" stroke="#fff" stroke-width="0.9">0.0</text>
<text transform="translate(2193.55 1573) scale(0.9500 1)" font-size="39" font-weight="400" stroke="#fff" stroke-width="0.9">-0.5</text>
<text transform="translate(2193.55 1685) scale(0.9500 1)" font-size="39" font-weight="400" stroke="#fff" stroke-width="0.9">-1.0</text>
<text transform="translate(2193.55 1797) scale(0.9500 1)" font-size="39" font-weight="400" stroke="#fff" stroke-width="0.9">-1.5</text>
<text transform="translate(2193.55 1909) scale(0.9500 1)" font-size="39" font-weight="400" stroke="#fff" stroke-width="0.9">-2.0</text>
<text transform="translate(2974.05 1237) scale(0.9750 1)" font-size="39" font-weight="400" stroke="#fff" stroke-width="0.9">6,000</text>
<text transform="translate(2974.05 1349) scale(0.9750 1)" font-size="39" font-weight="400" stroke="#fff" stroke-width="0.9">5,000</text>
<text transform="translate(2975.03 1461) scale(0.9750 1)" font-size="39" font-weight="400" stroke="#fff" stroke-width="0.9">4,000</text>
<text transform="translate(2974.05 1573) scale(0.9750 1)" font-size="39" font-weight="400" stroke="#fff" stroke-width="0.9">3,000</text>
<text transform="translate(2974.05 1685) scale(0.9750 1)" font-size="39" font-weight="400" stroke="#fff" stroke-width="0.9">2,000</text>
<text transform="translate(2973.07 1797) scale(0.9750 1)" font-size="39" font-weight="400" stroke="#fff" stroke-width="0.9">1,000</text>
<text transform="translate(2974.05 1909) scale(0.9750 1)" font-size="39" font-weight="400" stroke="#fff" stroke-width="0.9">0</text>
<text transform="translate(2268.90 1951) scale(0.9500 1)" font-size="39" font-weight="400" stroke="#fff" stroke-width="0.9">17</text>
<text transform="translate(2356.50 1951) scale(0.9500 1)" font-size="39" font-weight="400" stroke="#fff" stroke-width="0.9">18</text>
<text transform="translate(2444.10 1951) scale(0.9500 1)" font-size="39" font-weight="400" stroke="#fff" stroke-width="0.9">19</text>
<text transform="translate(2531.70 1951) scale(0.9500 1)" font-size="39" font-weight="400" stroke="#fff" stroke-width="0.9">20</text>
<text transform="translate(2619.78 1951) scale(0.9500 1)" font-size="39" font-weight="400" stroke="#fff" stroke-width="0.9">21</text>
<text transform="translate(2707.38 1951) scale(0.9500 1)" font-size="39" font-weight="400" stroke="#fff" stroke-width="0.9">22</text>
<text transform="translate(2794.97 1951) scale(0.9500 1)" font-size="39" font-weight="400" stroke="#fff" stroke-width="0.9">23</text>
<text transform="translate(2882.10 1951) scale(0.9500 1)" font-size="39" font-weight="400" stroke="#fff" stroke-width="0.9">24</text>
</svg>
</body></html>
